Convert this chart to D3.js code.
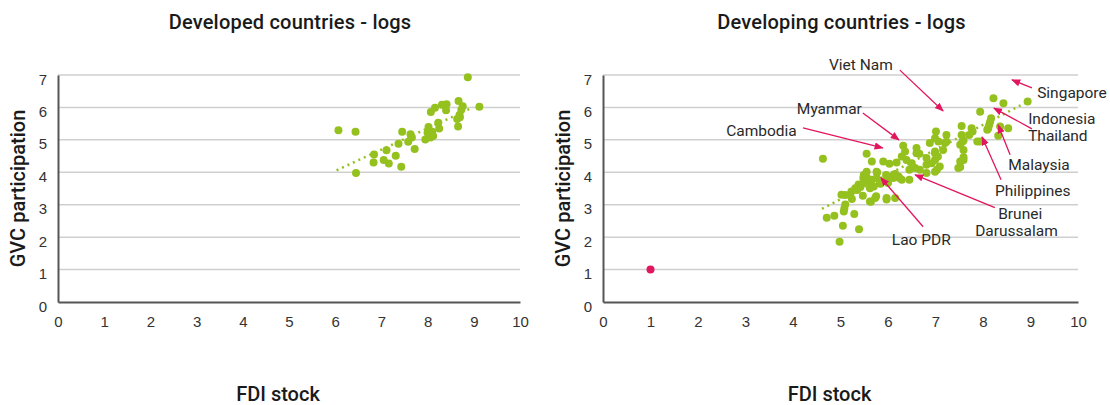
<!DOCTYPE html>
<html>
<head>
<meta charset="utf-8">
<script src="https://cdn.jsdelivr.net/npm/d3@7"></script>
<style>
  body { margin: 0; background: #fff; }
  svg { font-family: Roboto, "Noto Sans", sans-serif; }
  .grid line { stroke: #cfcfcf; stroke-width: 1.5; }
  .tick-label { font-size: 15px; fill: #333; }
  .title { font-size: 20px; font-weight: 500; fill: #1a1a1a; letter-spacing: 0.2px; }
  .axis-title { font-size: 20px; font-weight: 500; fill: #1a1a1a; }
  .note { font-size: 15.5px; fill: #2a2a2a; }
</style>
</head>
<body>
<svg id="chart" width="1110" height="405"></svg>
<script>
(function () {
  'use strict';

  // tick labels
  var xTicks = [0, 1, 2, 3, 4, 5, 6, 7, 8, 9, 10];
  var yTicks = [0, 1, 2, 3, 4, 5, 6, 7];

  // developed countries: [log FDI stock, log GVC participation]
  var developed = [
    [6.07,5.30],[6.44,5.25],[6.45,3.98],[8.87,6.93],[9.12,6.02],[8.67,6.20],[8.76,6.04],
    [8.31,6.08],[8.41,6.10],[8.16,5.99],[8.07,5.86],[8.40,5.91],[8.73,5.93],[8.69,5.77],
    [8.64,5.64],[8.66,5.41],[8.23,5.53],[8.25,5.35],[8.02,5.40],[8.10,5.25],[8.00,5.22],
    [8.06,5.07],[7.95,5.01],[7.45,5.25],[7.63,5.17],[7.66,5.07],[7.58,4.94],[7.37,4.88],
    [7.72,4.72],[7.11,4.68],[6.84,4.55],[7.31,4.51],[7.05,4.38],[6.83,4.30],[7.16,4.27],
    [7.43,4.17],[8.12,5.12],[8.70,5.70]
  ];
  var developedTrend = { a: 0.10, b: 0.657, from: 6.03, to: 8.98 };

  // developing countries
  var developing = [
    [4.98,1.86],[5.39,2.24],[5.05,2.35],[4.71,2.60],[4.87,2.66],[5.29,2.71],[5.07,2.79],
    [5.08,2.88],[5.10,3.01],[5.02,3.31],[5.10,3.30],[5.24,3.18],[5.47,3.28],[5.64,3.09],
    [5.75,3.26],[5.97,3.16],[6.15,3.21],[5.23,3.41],[5.31,3.51],[5.38,3.62],[5.49,3.67],
    [5.56,3.82],[5.66,3.77],[5.77,3.99],[5.49,3.92],[5.70,3.56],[5.84,3.65],[6.00,3.67],
    [6.08,3.87],[5.96,3.92],[6.15,3.95],[6.24,3.82],[5.35,3.45],[5.20,3.30],[5.42,3.55],
    [5.60,3.70],[4.63,4.42],
    [6.32,4.82],[5.55,4.57],[5.66,4.33],[5.90,4.33],[6.03,4.26],[6.18,4.30],[6.29,4.49],
    [6.36,4.64],[6.39,4.38],[6.50,4.28],[6.66,4.57],[6.81,4.44],[6.99,4.59],[6.92,4.28],
    [7.09,4.18],[6.99,4.02],[6.81,3.98],[6.67,4.08],[6.57,4.13],[6.45,4.08],[6.45,3.77],
    [6.29,3.77],[6.22,3.87],[6.11,3.82],[5.97,3.87],[5.76,4.02],[5.55,4.02],[5.48,3.82],
    [5.76,3.82],[5.83,3.67],[5.62,3.51],[5.73,3.21],[5.97,3.21],[5.62,3.10],[6.99,5.05],
    [7.06,4.95],[7.20,4.90],[7.16,4.69],[7.01,5.26],[7.23,5.15],[6.88,4.90],[6.60,4.75],
    [6.99,4.64],[6.99,4.38],[6.81,4.23],[7.03,4.08],[6.60,4.59],[7.05,4.49],[7.23,4.94],
    [8.94,6.18],[8.22,6.28],[8.43,6.13],[7.94,5.87],[8.17,5.67],[8.15,5.56],[8.13,5.46],
    [8.11,5.36],[8.09,5.31],[8.36,5.41],[8.53,5.36],[8.32,5.13],[7.94,4.95],[7.88,4.95],
    [7.76,5.36],[7.78,5.26],[7.71,5.15],[7.55,5.43],[7.55,5.15],[7.59,4.98],[7.52,4.85],
    [7.59,4.69],[7.59,4.46],[7.52,4.33],[7.48,4.13],[7.57,4.95],[7.59,4.38],[7.52,4.16]
  ];
  var outlier = [[1, 1]];
  var developingTrend = { a: -0.65, b: 0.764, from: 4.61, to: 8.94 };

  // labelled countries: text, text anchor point, arrow start, arrow end (data units)
  var notes = [
    { lines: ["Viet Nam"], at: [5.43, 7.31], anchor: "middle", from: [6.25, 7.15], to: [7.16, 5.89] },
    { lines: ["Singapore"], at: [9.14, 6.45], anchor: "start", from: [9.03, 6.60], to: [8.61, 6.85] },
    { lines: ["Indonesia", "Thailand"], at: [8.95, 5.65], anchor: "start", from: [9.03, 5.34], to: [8.23, 5.98] },
    { lines: ["Malaysia"], at: [8.53, 4.23], anchor: "start", from: [8.57, 4.54], to: [8.32, 5.46] },
    { lines: ["Philippines"], at: [8.25, 3.43], anchor: "start", from: [8.38, 3.77], to: [7.98, 5.09] },
    { lines: ["Brunei", "Darussalam"], at: [8.32, 2.72], anchor: "start", dx2: -23, from: [8.25, 2.91], to: [6.57, 3.92] },
    { lines: ["Lao PDR"], at: [6.08, 1.92], anchor: "start", from: [6.74, 2.32], to: [5.85, 3.83] },
    { lines: ["Myanmar"], at: [5.45, 5.98], anchor: "end", from: [5.47, 5.83], to: [6.23, 5.00] },
    { lines: ["Cambodia"], at: [4.08, 5.28], anchor: "end", from: [4.21, 5.37], to: [5.89, 4.75] }
  ];

  var green = "#95c11f", pink = "#e2165e";
  var svg = d3.select("#chart");

  svg.append("defs").append("marker")
    .attr("id", "arrow")
    .attr("viewBox", "0 0 10 10")
    .attr("refX", 9).attr("refY", 5)
    .attr("markerWidth", 7).attr("markerHeight", 7)
    .attr("orient", "auto")
    .append("path")
    .attr("d", "M0,1 L10,5 L0,9 Z")
    .attr("fill", pink);

  function panel(opt) {
    var x = d3.scaleLinear().domain([0, 10]).range([opt.left, opt.right]),
        y = d3.scaleLinear().domain([0, 7]).range([302, 75]);

    var g = svg.append("g");

    g.append("g").attr("class", "grid")
      .selectAll("line")
      .data(yTicks.slice(1))
      .enter().append("line")
      .attr("x1", x(0)).attr("x2", x(10))
      .attr("y1", function(d) { return y(d); })
      .attr("y2", function(d) { return y(d); });

    // axes, drawn with d3 axis then restyled
    var xa = g.append("g")
      .attr("transform", "translate(0," + y(0) + ")")
      .call(d3.axisBottom(x).tickValues(xTicks).tickSize(0).tickPadding(14).tickFormat(d3.format("d")));
    var ya = g.append("g")
      .attr("transform", "translate(" + x(0) + ",0)")
      .call(d3.axisLeft(y).tickValues(yTicks).tickSize(0).tickPadding(11).tickFormat(d3.format("d")));
    [xa, ya].forEach(function(a) {
      a.select(".domain").attr("stroke", "#555").attr("stroke-width", 2);
      a.selectAll("text").attr("class", "tick-label").attr("font-family", null).attr("font-size", null);
    });
    ya.selectAll("text").attr("dy", "0.6em");

    var t = opt.trend;
    g.append("line")
      .attr("x1", x(t.from)).attr("y1", y(t.a + t.b * t.from))
      .attr("x2", x(t.to)).attr("y2", y(t.a + t.b * t.to))
      .attr("stroke", green).attr("stroke-width", 2.5)
      .attr("stroke-dasharray", "2,4");

    g.append("g").selectAll("circle")
      .data(opt.points)
      .enter().append("circle")
      .attr("cx", function(d) { return x(d[0]); })
      .attr("cy", function(d) { return y(d[1]); })
      .attr("r", 4)
      .attr("fill", green);

    if (opt.extra) {
      g.append("g").selectAll("circle")
        .data(opt.extra)
        .enter().append("circle")
        .attr("cx", function(d) { return x(d[0]); })
        .attr("cy", function(d) { return y(d[1]); })
        .attr("r", 4)
        .attr("fill", pink);
    }

    var mid = (opt.left + opt.right) / 2;
    g.append("text").attr("class", "title")
      .attr("x", mid + 1).attr("y", 29)
      .attr("text-anchor", "middle").text(opt.title);
    g.append("text").attr("class", "axis-title")
      .attr("x", mid - 11).attr("y", 401)
      .attr("text-anchor", "middle").text("FDI stock");
    g.append("text").attr("class", "axis-title")
      .attr("transform", "translate(" + (opt.left - 33) + "," + y(3.5) + ") rotate(-90)")
      .attr("text-anchor", "middle").text("GVC participation");

    if (opt.notes) {
      var n = g.append("g").selectAll("g").data(opt.notes).enter().append("g");
      n.append("line")
        .attr("x1", function(d) { return x(d.from[0]); })
        .attr("y1", function(d) { return y(d.from[1]); })
        .attr("x2", function(d) { return x(d.to[0]); })
        .attr("y2", function(d) { return y(d.to[1]); })
        .attr("stroke", pink).attr("stroke-width", 1.3)
        .attr("marker-end", "url(#arrow)");
      n.each(function(d) {
        var txt = d3.select(this).append("text").attr("class", "note")
          .attr("text-anchor", d.anchor);
        d.lines.forEach(function(l, i) {
          txt.append("tspan")
            .attr("x", x(d.at[0]) + (i > 0 && d.dx2 ? d.dx2 : 0))
            .attr("y", y(d.at[1]) + i * 17)
            .attr("dy", "0.35em")
            .text(l);
        });
      });
    }
  }

  panel({ left: 58, right: 520, points: developed, trend: developedTrend,
          title: "Developed countries - logs" });
  panel({ left: 603, right: 1078, points: developing, trend: developingTrend,
          extra: outlier, notes: notes, title: "Developing countries - logs" });
}());
</script>
</body>
</html>
